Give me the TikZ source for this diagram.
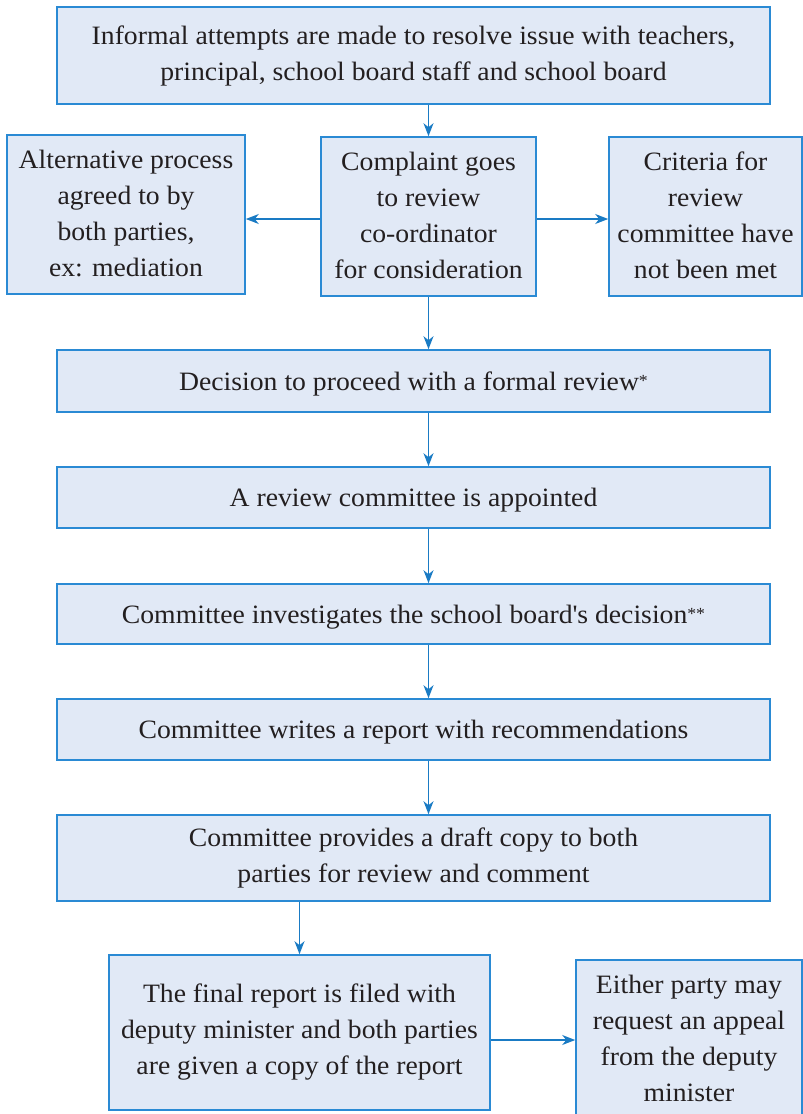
\documentclass[tikz,border=0pt]{standalone}
\usepackage{fontspec}
\setmainfont{Liberation Serif}[FakeStretch=1.045]
\usetikzlibrary{arrows.meta}
\definecolor{boxfill}{HTML}{E1E9F6}
\definecolor{boxline}{HTML}{2A8AD4}
\definecolor{arrowcol}{HTML}{1A7BC4}
\definecolor{txt}{HTML}{231F20}
\newcommand{\smallast}{{\fontsize{17}{17}\selectfont\raisebox{3.5pt}{*}}}
\tikzset{
  flowbox/.style={draw=boxline, fill=boxfill, line width=1.6pt, inner sep=0pt,
    align=center, text=txt, font=\fontsize{26.5}{36}\selectfont,
    execute at begin node={\rule{0pt}{24pt}},
    execute at end node={\rule[-3pt]{0pt}{3pt}}},
  conn/.style={draw=arrowcol, line width=1.4pt,
    -{Stealth[length=13pt, width=10pt, inset=4pt]}}
}
\begin{document}
\begin{tikzpicture}[x=1pt, y=-1pt]
\useasboundingbox (0,0) rectangle (803,1114);
\node[flowbox, minimum width=713pt, minimum height=97pt] (B1) at (413.5,55.5)
  {Informal attempts are made to resolve issue with teachers,\\principal, school board staff and school board};
\node[flowbox, minimum width=238pt, minimum height=159pt] (L) at (126,214.5)
  {Alternative process\\agreed to by\\both parties,\\ex: mediation};
\node[flowbox, minimum width=215pt, minimum height=159pt] (C) at (428.5,216.5)
  {Complaint goes\\to review\\co-ordinator\\for consideration};
\node[flowbox, minimum width=193pt, minimum height=159pt] (R) at (705.5,216.5)
  {Criteria for\\review\\committee have\\not been met};
\node[flowbox, minimum width=713pt, minimum height=62pt] (D) at (413.5,381)
  {Decision to proceed with a formal review\smallast};
\node[flowbox, minimum width=713pt, minimum height=61pt] (A) at (413.5,497.5)
  {A review committee is appointed};
\node[flowbox, minimum width=713pt, minimum height=60pt] (I) at (413.5,614)
  {Committee investigates the school board\textquotesingle s decision\smallast\smallast};
\node[flowbox, minimum width=713pt, minimum height=61pt] (W) at (413.5,729.5)
  {Committee writes a report with recommendations};
\node[flowbox, minimum width=713pt, minimum height=86pt] (P) at (413.5,858)
  {Committee provides a draft copy to both\\parties for review and comment};
\node[flowbox, minimum width=381pt, minimum height=155pt] (F) at (299.5,1032.5)
  {The final report is filed with\\deputy minister and both parties\\are given a copy of the report};
\node[flowbox, minimum width=226pt, minimum height=160pt] (E) at (689,1040)
  {Either party may\\request an appeal\\from the deputy\\minister};
\draw[conn] (B1.south -| C.north) -- (C.north);
\draw[conn] ([yshift=-2.5pt]C.west) -- ([yshift=-2.5pt]L.east |- C.west);
\draw[conn] ([yshift=-2.5pt]C.east) -- ([yshift=-2.5pt]R.west);
\draw[conn] (C.south) -- (C.south |- D.north);
\draw[conn] (D.south -| C.south) -- (A.north -| C.south);
\draw[conn] (A.south -| C.south) -- (I.north -| C.south);
\draw[conn] (I.south -| C.south) -- (W.north -| C.south);
\draw[conn] (W.south -| C.south) -- (P.north -| C.south);
\draw[conn] (P.south -| F.north) -- (F.north);
\draw[conn] (F.east |- E.west) -- (E.west);
\end{tikzpicture}
\end{document}
